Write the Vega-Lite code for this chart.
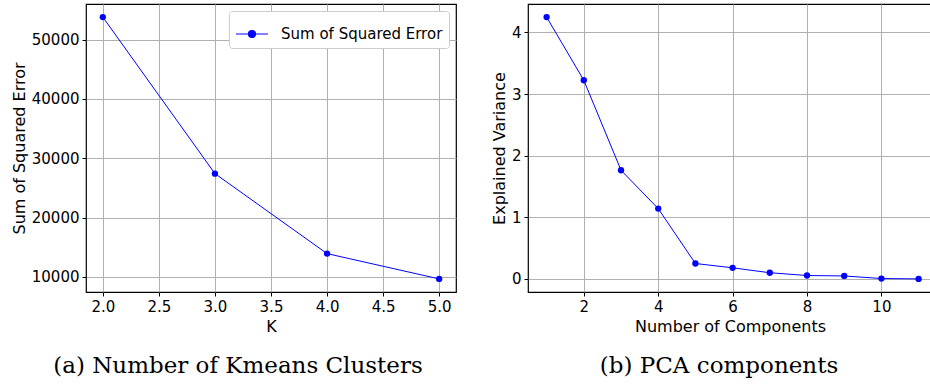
{
  "$schema": "https://vega.github.io/schema/vega-lite/v6.json",
  "padding": {"left": 10, "top": 3, "right": 0, "bottom": 0},
  "spacing": 33,
  "resolve": {"legend": {"color": "independent"}, "scale": {"color": "independent"}},
  "config": {
    "font": "DejaVu Sans",
    "view": {"stroke": "black", "strokeWidth": 1.2},
    "axis": {"gridColor": "#b0b0b0", "gridWidth": 1, "gridOpacity": 1, "domain": false, "tickColor": "black", "tickSize": 4, "tickWidth": 1, "labelPadding": 3, "labelFontSize": 15, "labelColor": "black", "titleFontSize": 16, "titleFontWeight": "normal", "titleColor": "black", "labelFont": "DejaVu Sans", "titleFont": "DejaVu Sans", "titlePadding": 4},
    "title": {"font": "DejaVu Serif", "fontSize": 23, "fontWeight": "normal", "color": "black", "orient": "bottom", "offset": 21}
  },
  "hconcat": [
    {
      "width": 370,
      "height": 288,
      "title": {"text": "(a) Number of Kmeans Clusters", "orient": "bottom", "dx": -33},
      "data": {"values": [
        {"K": 2, "SSE": 53810, "series": "Sum of Squared Error"},
        {"K": 3, "SSE": 27415, "series": "Sum of Squared Error"},
        {"K": 4, "SSE": 13931, "series": "Sum of Squared Error"},
        {"K": 5, "SSE": 9663, "series": "Sum of Squared Error"}
      ]},
      "encoding": {
        "x": {"field": "K", "type": "quantitative", "scale": {"domain": [1.85, 5.15], "nice": false, "zero": false}, "axis": {"values": [2, 2.5, 3, 3.5, 4, 4.5, 5], "format": ".1f", "title": "K"}},
        "y": {"field": "SSE", "type": "quantitative", "scale": {"domain": [7456, 56017], "nice": false, "zero": false}, "axis": {"values": [10000, 20000, 30000, 40000, 50000], "format": "d", "title": "Sum of Squared Error"}},
        "color": {"field": "series", "type": "nominal", "scale": {"range": ["#0000ff"]}, "legend": {"title": null, "orient": "top-right", "offset": 7, "fillColor": "white", "strokeColor": "#cccccc", "cornerRadius": 3, "padding": 6, "labelFontSize": 15, "labelColor": "black", "labelFont": "DejaVu Sans", "labelLimit": 400, "symbolType": "M-1,0H1M-0.22,0A0.22,0.22 0 1,1 0.22,0A0.22,0.22 0 1,1 -0.22,0Z", "symbolSize": 1024, "symbolStrokeWidth": 1.2, "symbolFillColor": "#0000ff", "symbolStrokeColor": "#0000ff", "labelOffset": 12}}
      },
      "layer": [
        {"mark": {"type": "line", "strokeWidth": 1}},
        {"mark": {"type": "point", "filled": true, "size": 40, "opacity": 1}}
      ]
    },
    {
      "width": 404,
      "height": 288,
      "title": {"text": "(b) PCA components", "orient": "bottom", "dx": -11},
      "data": {"values": [
        {"n": 1, "v": 4.25},
        {"n": 2, "v": 3.225},
        {"n": 3, "v": 1.764},
        {"n": 4, "v": 1.142},
        {"n": 5, "v": 0.25},
        {"n": 6, "v": 0.18},
        {"n": 7, "v": 0.10},
        {"n": 8, "v": 0.055},
        {"n": 9, "v": 0.048},
        {"n": 10, "v": 0.006},
        {"n": 11, "v": 0.0}
      ]},
      "encoding": {
        "x": {"field": "n", "type": "quantitative", "scale": {"domain": [0.5, 11.36], "nice": false, "zero": false}, "axis": {"values": [2, 4, 6, 8, 10], "title": "Number of Components"}},
        "y": {"field": "v", "type": "quantitative", "scale": {"domain": [-0.2125, 4.4625], "nice": false, "zero": false}, "axis": {"values": [0, 1, 2, 3, 4], "title": "Explained Variance"}}
      },
      "layer": [
        {"mark": {"type": "line", "strokeWidth": 1, "color": "#0000ff"}},
        {"mark": {"type": "point", "filled": true, "size": 40, "opacity": 1, "color": "#0000ff"}}
      ]
    }
  ]
}
